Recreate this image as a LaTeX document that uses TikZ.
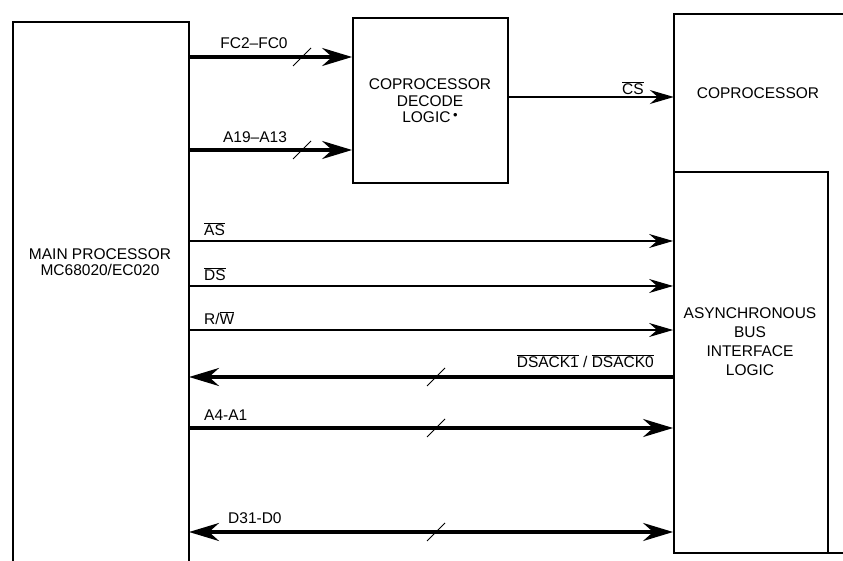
\documentclass[tikz,border=0pt]{standalone}
\usepackage{fontspec}
\setmainfont{Liberation Sans}
\usetikzlibrary{arrows.meta,calc}
\begin{document}
\begin{tikzpicture}[x=1pt,y=-1pt,
  txt/.style={font=\fontsize{15.5}{17}\selectfont, inner sep=0pt},
  boxtxt/.style={font=\fontsize{15.5}{16.5}\selectfont, align=center, inner sep=0pt},
  boxtxtwide/.style={font=\fontsize{15.5}{19}\selectfont, align=center, inner sep=0pt},
  thinarrow/.style={line width=1.1pt, -{Stealth[length=24pt,width=14pt,inset=8pt]}},
  busarrow/.style={line width=3.4pt, -{Stealth[length=30pt,width=18pt,inset=10pt]}},
  busboth/.style={line width=3.4pt, {Stealth[length=30pt,width=18pt,inset=10pt]}-{Stealth[length=30pt,width=18pt,inset=10pt]}},
  slash/.style={line width=0.9pt},
  frame/.style={line width=1.8pt},
  hole/.style={inner sep=0pt, draw=none}]
\useasboundingbox (0,0) rectangle (843,561);
\fill[white] (0,0) rectangle (843,561);

% boxes (named nodes, frames drawn separately where open)
\node[hole, minimum width=176pt, minimum height=539pt] (main) at (101,291.5) {};
\draw[frame] (13,561) -- (13,22) -- (189,22) -- (189,561);
\node[boxtxt] (mainlbl) at (100,262) {MAIN PROCESSOR\\MC68020/EC020};

\node[draw, frame, minimum width=155pt, minimum height=165pt, inner sep=0pt] (dec) at (430.5,100.5) {};
\node[boxtxt] (declbl) at (430,101) {COPROCESSOR\\DECODE\\LOGIC\,\smash{\raisebox{0.22em}{\fontsize{13}{13}\selectfont\textbullet}}};

\node[hole, minimum width=169pt, minimum height=158pt] (cop) at (758.5,93) {};
\draw[frame] (843,14) -- (674,14) -- (674,553) -- (843,553);
\node[boxtxt] (coplbl) at (758,93) {COPROCESSOR};

\node[draw, frame, minimum width=154pt, minimum height=381pt, inner sep=0pt] (bus) at (751,362.5) {};
\node[boxtxtwide] (buslbl) at (750,342) {ASYNCHRONOUS\\BUS\\INTERFACE\\LOGIC};

% connector end points on main processor edge
\coordinate (fc) at (189,57);
\coordinate (ad) at (189,150);
\coordinate (as) at (189,241);
\coordinate (ds) at (189,286);
\coordinate (rw) at (189,330);
\coordinate (dk) at (189,377);
\coordinate (a4) at (189,428);
\coordinate (dd) at (189,532);
\coordinate (cs) at (508,97);

% connectors
\draw[busarrow] (fc) -- (fc -| dec.west);
\draw[busarrow] (ad) -- (ad -| dec.west);
\draw[thinarrow] (cs) -- (cs -| cop.west);
\draw[thinarrow] (as) -- (as -| bus.west);
\draw[thinarrow] (ds) -- (ds -| bus.west);
\draw[thinarrow] (rw) -- (rw -| bus.west);
\draw[busarrow] (dk -| bus.west) -- (dk);
\draw[busarrow] (a4) -- (a4 -| bus.west);
\draw[busboth] (dd) -- (dd -| bus.west);

% bus slashes
\draw[slash] (293,66) -- (311,48);
\draw[slash] (293,159) -- (311,141);
\draw[slash] (427,386) -- (445,368);
\draw[slash] (427,437) -- (445,419);
\draw[slash] (427,541) -- (445,523);

% labels
\node[txt] (lfc) at (254,43) {FC2--FC0};
\node[txt] (lad) at (255,137) {A19--A13};
\node[txt] (lcs) at (633,88) {$\overline{\mbox{CS}}$};
\node[txt, anchor=west] (las) at (204,229) {$\overline{\mbox{AS}}$};
\node[txt, anchor=west] (lds) at (204,274) {$\overline{\mbox{DS}}$};
\node[txt, anchor=west] (lrw) at (204,318) {R/$\overline{\mbox{W}}$};
\node[txt, anchor=east] (ldk) at (654,361) {$\overline{\mbox{DSACK1}}$ / $\overline{\mbox{DSACK0}}$};
\node[txt, anchor=west] (la4) at (204,415) {A4-A1};
\node[txt, anchor=west] (ldd) at (228,518) {D31-D0};
\end{tikzpicture}
\end{document}
